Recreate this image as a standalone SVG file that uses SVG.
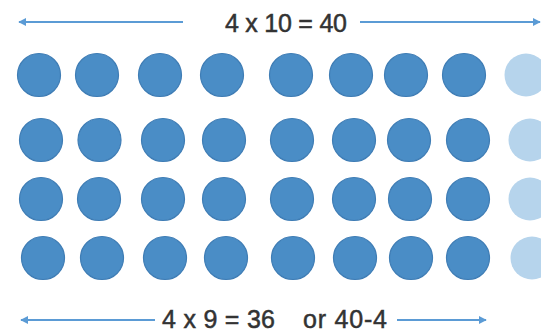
<svg xmlns="http://www.w3.org/2000/svg" width="541" height="334" viewBox="0 0 541 334">
<style>
.d{fill:#4a8dc6;stroke:#3f7db5;stroke-width:1.2}
.l{fill:#b6d4ec}
.t{font-family:"Liberation Sans",Arial,sans-serif;font-size:25px;fill:#333;stroke:#333;stroke-width:0.5}
.a{stroke:#5b9bd5;stroke-width:2;fill:none}
</style>
<defs>
<marker id="ah" viewBox="0 0 10 10" refX="9" refY="5" markerWidth="4" markerHeight="4" orient="auto-start-reverse">
<path d="M0,0 L10,5 L0,10 z" fill="#5b9bd5"/>
</marker>
</defs>
<g id="connectors">
<line class="a" x1="183" y1="22" x2="19" y2="22" marker-end="url(#ah)"/>
<line class="a" x1="360" y1="22" x2="540" y2="22" marker-end="url(#ah)"/>
<line class="a" x1="155" y1="320" x2="21" y2="320" marker-end="url(#ah)"/>
<line class="a" x1="397" y1="320" x2="486" y2="320" marker-end="url(#ah)"/>
</g>
<g id="labels">
<text class="t" x="225" y="32" textLength="122">4 x 10 = 40</text>
<text class="t" x="162" y="328" textLength="113">4 x 9 = 36</text>
<text class="t" x="303" y="328" textLength="84">or 40-4</text>
</g>
<g id="row1">
<circle class="d" cx="39" cy="75" r="21.5"/>
<circle class="d" cx="97" cy="75" r="21.5"/>
<circle class="d" cx="160" cy="75" r="21.5"/>
<circle class="d" cx="222" cy="75" r="21.5"/>
<circle class="d" cx="291" cy="75" r="21.5"/>
<circle class="d" cx="351" cy="75" r="21.5"/>
<circle class="d" cx="406" cy="75" r="21.5"/>
<circle class="d" cx="464" cy="75" r="21.5"/>
<circle class="l" cx="526" cy="75" r="21.5"/>
</g>
<g id="row2">
<circle class="d" cx="41" cy="140" r="21.5"/>
<circle class="d" cx="99.5" cy="140" r="21.5"/>
<circle class="d" cx="163" cy="140" r="21.5"/>
<circle class="d" cx="224" cy="140" r="21.5"/>
<circle class="d" cx="292" cy="140" r="21.5"/>
<circle class="d" cx="354" cy="140" r="21.5"/>
<circle class="d" cx="409" cy="140" r="21.5"/>
<circle class="d" cx="468" cy="140" r="21.5"/>
<circle class="l" cx="530" cy="140" r="21.5"/>
</g>
<g id="row3">
<circle class="d" cx="41" cy="199" r="21.5"/>
<circle class="d" cx="99" cy="199" r="21.5"/>
<circle class="d" cx="163" cy="199" r="21.5"/>
<circle class="d" cx="224" cy="199" r="21.5"/>
<circle class="d" cx="292" cy="199" r="21.5"/>
<circle class="d" cx="354" cy="199" r="21.5"/>
<circle class="d" cx="410" cy="199" r="21.5"/>
<circle class="d" cx="468" cy="199" r="21.5"/>
<circle class="l" cx="530" cy="199" r="21.5"/>
</g>
<g id="row4">
<circle class="d" cx="43" cy="258" r="21.5"/>
<circle class="d" cx="102" cy="258" r="21.5"/>
<circle class="d" cx="165" cy="258" r="21.5"/>
<circle class="d" cx="226" cy="258" r="21.5"/>
<circle class="d" cx="293" cy="258" r="21.5"/>
<circle class="d" cx="355" cy="258" r="21.5"/>
<circle class="d" cx="411" cy="258" r="21.5"/>
<circle class="d" cx="468" cy="258" r="21.5"/>
<circle class="l" cx="532" cy="258" r="21.5"/>
</g>
</svg>
